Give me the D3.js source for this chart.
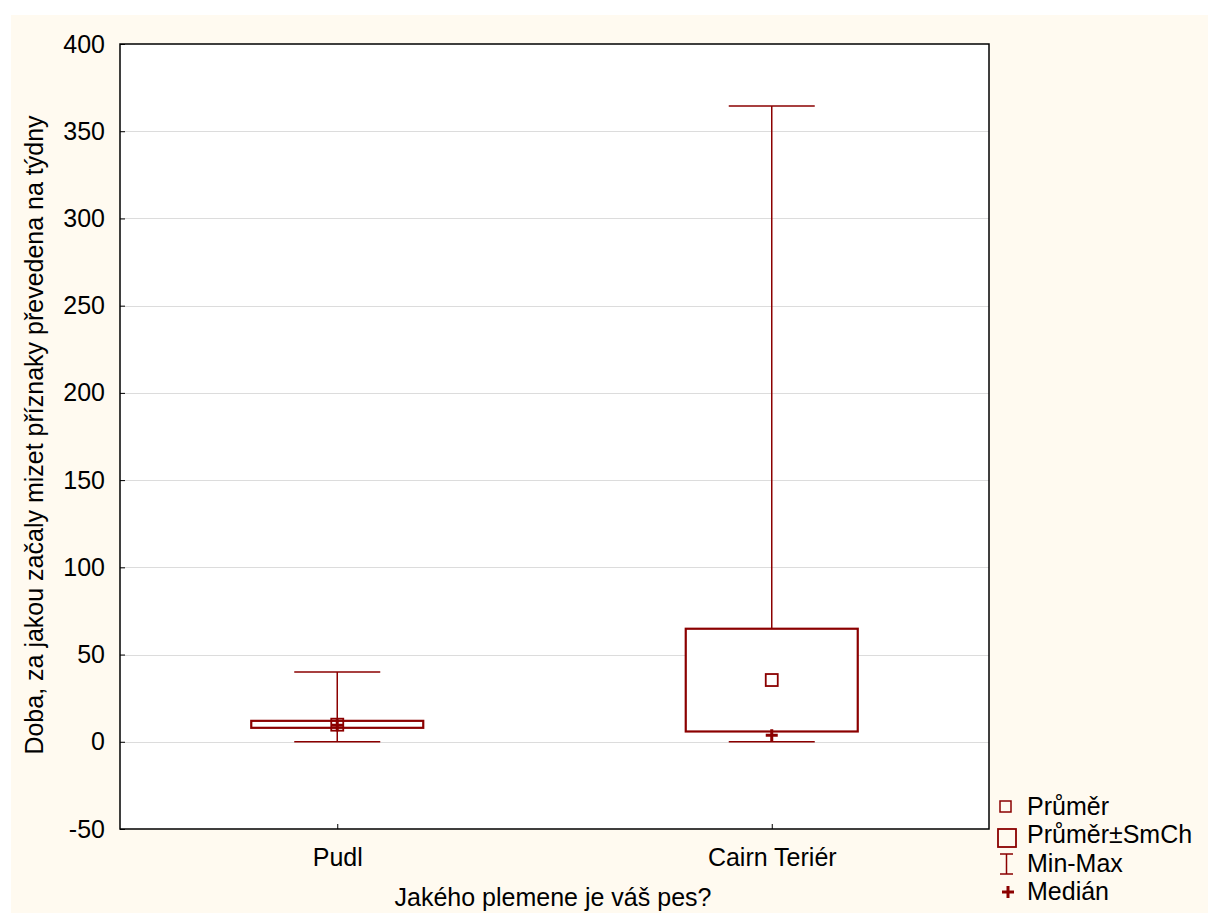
<!DOCTYPE html>
<html>
<head>
<meta charset="utf-8">
<script src="https://cdn.jsdelivr.net/npm/d3@7"></script>
<style>
  body { margin: 0; background: #fff; }
  svg { display: block; font-family: "Liberation Sans", Arial, sans-serif; }
</style>
</head>
<body>
<svg id="chart" width="1208" height="913"></svg>
<script>
// Data
const breeds = ['Pudl', 'Cairn Teriér'];
const means = [9.8, 35.4];
const seLow = [8.0, 5.9];
const seHigh = [12.0, 64.8];
const mins = [0, 0];
const maxs = [40, 364.5];
const medians = [9.5, 3.8];
const yTicks = [-50, 0, 50, 100, 150, 200, 250, 300, 350, 400];
const legendItems = ['Průměr', 'Průměr±SmCh', 'Min-Max', 'Medián'];

const color = '#8b0000';
const fs = '25px';
const svg = d3.select('#chart');

// cream panel
svg.append('rect').attr('x', 11).attr('y', 15).attr('width', 1197).attr('height', 898).attr('fill', '#fffaf0');

const m = { left: 120, top: 44, right: 989, bottom: 829 };
const x = d3.scalePoint().domain(breeds).range([m.left, m.right]).padding(0.5);
const y = d3.scaleLinear().domain([-50, 400]).range([m.bottom, m.top]);

svg.append('rect').attr('x', m.left).attr('y', m.top)
  .attr('width', m.right - m.left).attr('height', m.bottom - m.top).attr('fill', '#fff');

// grid
svg.append('g').selectAll('line').data(yTicks.slice(1, -1)).join('line')
  .attr('x1', m.left).attr('x2', m.right)
  .attr('y1', d => Math.round(y(d)) + 0.5).attr('y2', d => Math.round(y(d)) + 0.5)
  .attr('stroke', '#dcdcdc').attr('stroke-width', 1);

// axes
const yAxis = d3.axisLeft(y).tickValues(yTicks).tickSize(-5).tickPadding(15).tickFormat(d => String(d));
const gy = svg.append('g').attr('transform', `translate(${m.left},0)`).call(yAxis);
const xAxis = d3.axisBottom(x).tickSize(-5).tickPadding(19);
const gx = svg.append('g').attr('transform', `translate(0,${m.bottom})`).call(xAxis);
[gy, gx].forEach(g => {
  g.select('.domain').remove();
  g.selectAll('line').attr('stroke', '#000');
  g.selectAll('text').attr('fill', '#000').style('font-size', fs);
});

svg.append('rect').attr('x', m.left).attr('y', m.top)
  .attr('width', m.right - m.left).attr('height', m.bottom - m.top)
  .attr('fill', 'none').attr('stroke', '#000').attr('stroke-width', 1.5);

// boxes
const boxHalf = 86, capHalf = 43;
const g = svg.append('g').attr('stroke', color).attr('fill', 'none');
breeds.forEach((b, i) => {
  const cx = x(b);
  g.append('line').attr('x1', cx).attr('x2', cx).attr('y1', y(maxs[i])).attr('y2', y(seHigh[i])).attr('stroke-width', 1.5);
  g.append('line').attr('x1', cx).attr('x2', cx).attr('y1', y(seLow[i])).attr('y2', y(mins[i])).attr('stroke-width', 1.5);
  g.append('line').attr('x1', cx - capHalf).attr('x2', cx + capHalf).attr('y1', y(maxs[i])).attr('y2', y(maxs[i])).attr('stroke-width', 1.5);
  g.append('line').attr('x1', cx - capHalf).attr('x2', cx + capHalf).attr('y1', y(mins[i])).attr('y2', y(mins[i])).attr('stroke-width', 1.5);
  g.append('rect').attr('x', cx - boxHalf).attr('y', y(seHigh[i]))
    .attr('width', boxHalf * 2).attr('height', y(seLow[i]) - y(seHigh[i]))
    .attr('fill', '#fff').attr('stroke-width', 2.2);
  // median +
  g.append('path').attr('d', `M${cx - 6},${y(medians[i])}h12M${cx},${y(medians[i]) - 6}v12`).attr('stroke-width', 3);
  // mean square
  g.append('rect').attr('x', cx - 6).attr('y', y(means[i]) - 6).attr('width', 12).attr('height', 12)
    .attr('fill', 'none').attr('stroke-width', 1.8);
});

// axis titles
svg.append('text').attr('x', 553).attr('y', 906).attr('text-anchor', 'middle')
  .style('font-size', fs).text('Jakého plemene je váš pes?');
svg.append('text').attr('transform', `translate(43,435) rotate(-90)`)
  .attr('text-anchor', 'middle').style('font-size', fs)
  .text('Doba, za jakou začaly mizet příznaky převedena na týdny');

// legend
const baselines = [815, 843, 872, 900];
const lg = svg.append('g');
legendItems.forEach((t, i) => {
  const row = lg.append('g').attr('transform', `translate(997,${baselines[i]})`);
  row.append('text').attr('x', 30).attr('y', 0).style('font-size', fs).text(t);
  if (i === 0) row.append('rect').attr('x', 3).attr('y', -14).attr('width', 11).attr('height', 11).attr('fill', 'none').attr('stroke', color).attr('stroke-width', 1.5);
  if (i === 1) row.append('rect').attr('x', 1).attr('y', -14).attr('width', 18).attr('height', 18).attr('fill', 'none').attr('stroke', color).attr('stroke-width', 1.8);
  if (i === 2) row.append('path').attr('d', 'M3,-18h13M9.5,-18v20M3,2h13').attr('fill', 'none').attr('stroke', color).attr('stroke-width', 1.5);
  if (i === 3) row.append('path').attr('d', 'M5,-8h12M11,-14v12').attr('fill', 'none').attr('stroke', color).attr('stroke-width', 3);
});
</script>
</body>
</html>
